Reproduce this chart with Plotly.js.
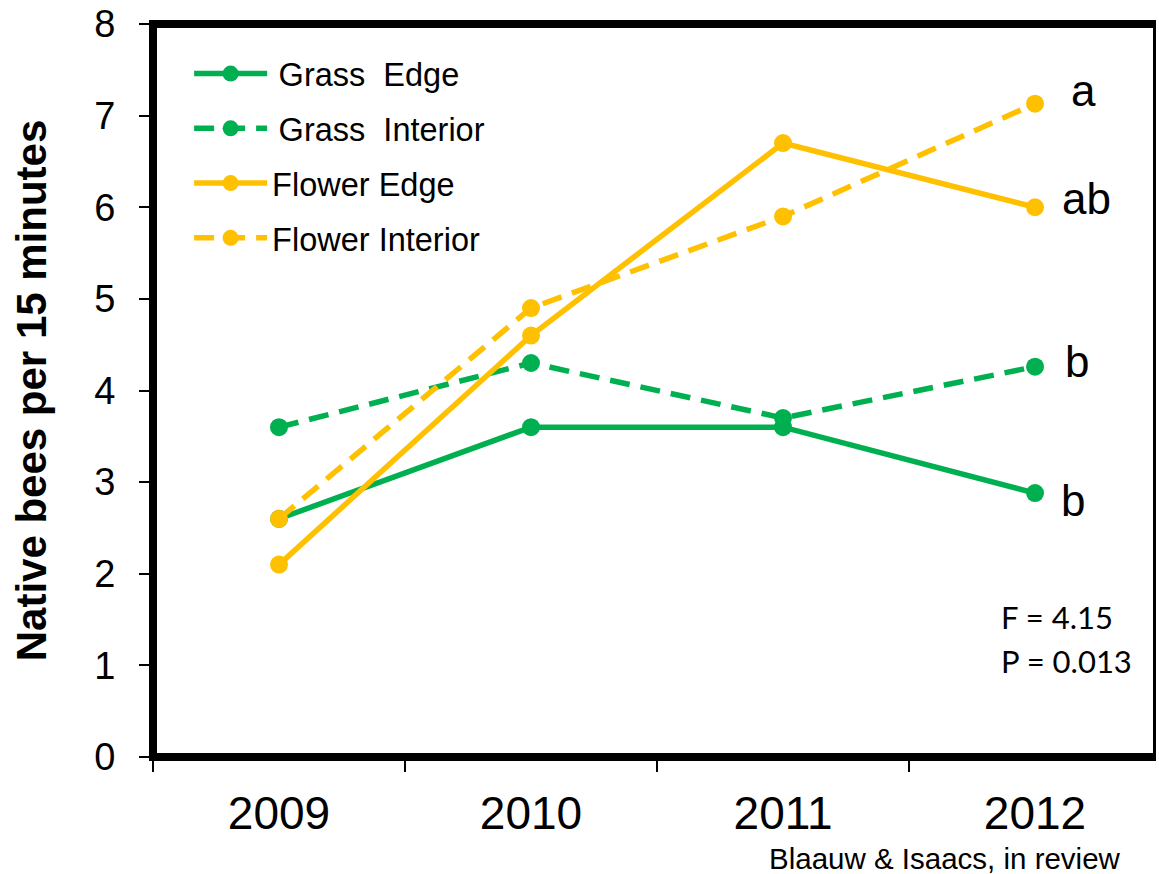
<!DOCTYPE html>
<html>
<head>
<meta charset="utf-8">
<script src="https://cdn.plot.ly/plotly-3.0.1.min.js"></script>
<style>
  html, body { margin: 0; padding: 0; background: #fff; }
  #chart { width: 1159px; height: 874px; }
</style>
</head>
<body>
<div id="chart"></div>
<script>
// Native bee visits per 15 minutes, by habitat and year
const years = ['2009', '2010', '2011', '2012'];

const grassEdge       = [2.6, 3.6, 3.6, 2.88];
const grassInterior   = [3.6, 4.3, 3.7, 4.26];
const flowerEdge      = [2.1, 4.6, 6.7, 6.0];
const flowerInterior  = [2.6, 4.9, 5.9, 7.13];

const seriesNames = ['\u2009Grass\u00a0\u00a0Edge', '\u2009Grass\u00a0\u00a0Interior', 'Flower Edge', 'Flower Interior'];
const seriesData = [grassEdge, grassInterior, flowerEdge, flowerInterior];
const seriesColors = ['#00B050', '#00B050', '#FFC000', '#FFC000'];
const seriesDash = ['solid', '20px,11px', 'solid', '20px,11px'];

// Letters of the mean separation for 2012, one per series
const groupLetters = ['b', 'b', 'ab', 'a'];
const letterShift = [[24, -7], [28, 5], [25, 9], [34, 13]];

const traces = seriesData.map((vals, i) => ({
  type: 'scatter',
  mode: 'lines+markers',
  x: years,
  y: vals,
  name: seriesNames[i],
  legendgroup: 'g' + i,
  line: { color: seriesColors[i], width: 5.5, dash: seriesDash[i] },
  marker: { color: seriesColors[i], size: 18 },
  cliponaxis: false
}));

const annotations = groupLetters.map((t, i) => ({
  x: 3,
  y: seriesData[i][3],
  xref: 'x', yref: 'y',
  text: t,
  showarrow: false,
  xanchor: 'left',
  yanchor: 'middle',
  xshift: letterShift[i][0],
  yshift: letterShift[i][1],
  font: { family: 'Liberation Sans, Arial, sans-serif', size: 44, color: '#000' }
}));

annotations.push(
  {
    x: 999, y: 617, xref: 'paper', yref: 'paper',
    text: 'F = 4.15', showarrow: false, xanchor: 'left', yanchor: 'middle',
    font: { family: 'Lato, sans-serif', size: 31, color: '#000' }
  },
  {
    x: 999, y: 661, xref: 'paper', yref: 'paper',
    text: 'P = 0.013', showarrow: false, xanchor: 'left', yanchor: 'middle',
    font: { family: 'Lato, sans-serif', size: 31, color: '#000' }
  },
  {
    x: 1123, y: 858, xref: 'paper', yref: 'paper',
    text: 'Blaauw & Isaacs, in review', showarrow: false, xanchor: 'right', yanchor: 'middle',
    font: { family: 'Liberation Sans, Arial, sans-serif', size: 29.5, color: '#000' }
  }
);

// plot area geometry in pixels
const W = 1159, H = 874;
const L = 153, R = 3, T = 24, B = 117;
const pw = W - L - R, ph = H - T - B;
// convert pixel positions of the free-standing notes to paper coordinates
annotations.forEach(a => {
  if (a.xref === 'paper') {
    a.x = (a.x - L) / pw;
    a.y = 1 - (a.y - T) / ph;
  }
});

const layout = {
  width: W,
  height: H,
  margin: { l: L, r: R, t: T, b: B, pad: 0 },
  paper_bgcolor: '#fff',
  plot_bgcolor: '#fff',
  showlegend: true,
  legend: {
    x: 0.036, y: 0.97, xanchor: 'left', yanchor: 'top',
    bgcolor: 'rgba(0,0,0,0)',
    itemwidth: 73,
    tracegroupgap: 9.5,
    font: { family: 'Liberation Sans, Arial, sans-serif', size: 32.5, color: '#000' }
  },
  xaxis: {
    type: 'category',
    range: [-0.5, 3.48],
    tickson: 'boundaries',
    ticks: 'outside',
    ticklen: 14,
    tickwidth: 2,
    tickcolor: '#000',
    showgrid: false,
    zeroline: false,
    showline: false,
    ticklabelstandoff: 25,
    tickfont: { family: 'Liberation Sans, Arial, sans-serif', size: 46, color: '#000' }
  },
  yaxis: {
    range: [0, 8],
    dtick: 1,
    ticks: 'outside',
    ticklen: 13,
    tickwidth: 2,
    tickcolor: '#000',
    showgrid: false,
    zeroline: false,
    showline: false,
    ticklabelstandoff: 16,
    tickfont: { family: 'Liberation Sans, Arial, sans-serif', size: 38, color: '#000' },
    title: {
      text: '<b>Native bees per 15 minutes</b>',
      standoff: 34,
      font: { family: 'Liberation Sans, Arial, sans-serif', size: 42, color: '#000' }
    }
  },
  shapes: [
    { type: 'line', xref: 'paper', yref: 'paper', x0: 0, x1: 0, y0: -0.005, y1: 1.005, line: { color: '#000', width: 8 } },
    { type: 'line', xref: 'paper', yref: 'paper', x0: -0.004, x1: 1, y0: 0, y1: 0, line: { color: '#000', width: 8 } },
    { type: 'line', xref: 'paper', yref: 'paper', x0: -0.004, x1: 1, y0: 1, y1: 1, line: { color: '#000', width: 8 } },
    { type: 'line', xref: 'paper', yref: 'paper', x0: 0.9985, x1: 0.9985, y0: 0, y1: 1, line: { color: '#000', width: 3 } }
  ],
  annotations: annotations
};

Plotly.newPlot('chart', traces, layout, { staticPlot: true, displayModeBar: false });
</script>
</body>
</html>
